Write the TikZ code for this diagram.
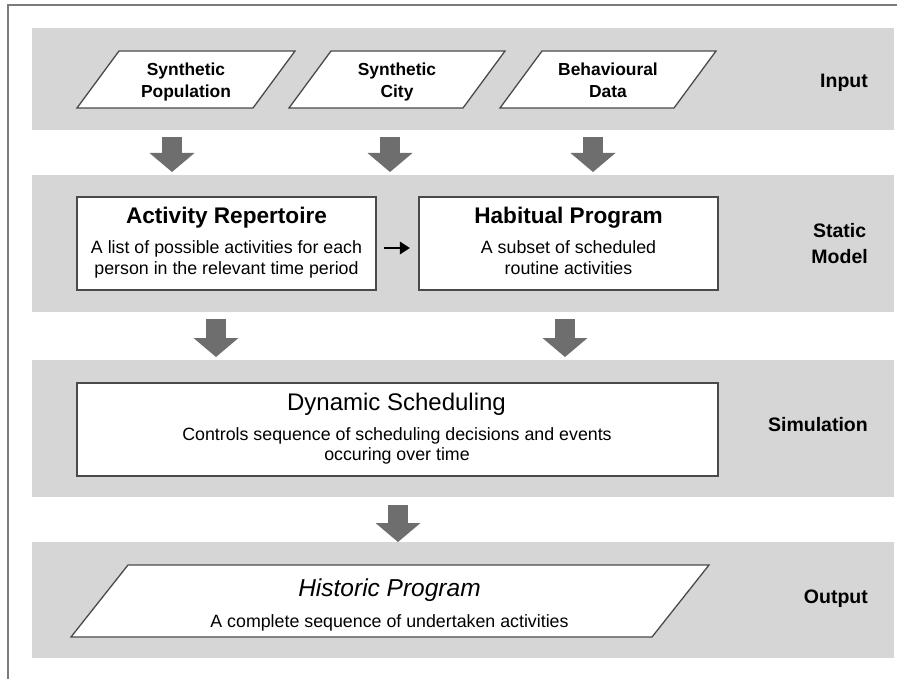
\documentclass[tikz,border=0pt]{standalone}
\usepackage{fontspec}
\setmainfont{Liberation Sans}
\usetikzlibrary{arrows.meta}
\definecolor{bandgray}{HTML}{D6D6D6}
\definecolor{arrowgray}{HTML}{6E6E6E}
\definecolor{edgegray}{HTML}{4A4A4A}
\definecolor{framegray}{HTML}{7C7C7C}
% two centred lines whose baseline is the baseline of the first line
\newcommand\stacked[2]{\vtop{\halign{\hfil##\hfil\cr#1\cr#2\cr}}}

\begin{document}
\begin{tikzpicture}[x=1pt,y=-1pt,
  band/.style={fill=bandgray},
  slanted/.style={draw=edgegray,fill=white,line width=1.3pt,line join=miter},
  box/.style={draw=edgegray,fill=white,line width=1.3pt,minimum width=299pt,minimum height=93pt,inner sep=0pt},
  intext/.style={anchor=base,inner sep=0pt,font=\fontsize{17.4}{21.3}\selectfont\bfseries},
  side/.style={anchor=base east,inner sep=0pt,font=\fontsize{19.5}{26}\selectfont\bfseries},
  title/.style={anchor=base,inner sep=0pt,font=\fontsize{22.6}{27}\selectfont\bfseries},
  desc/.style={anchor=base,inner sep=0pt,font=\fontsize{17.8}{20.5}\selectfont},
  fat/.style={draw=arrowgray,line width=20pt,-{Triangle[width=45pt,length=19pt,line width=0pt]}},
  smallarr/.style={draw=black,line width=2.6pt,-{Triangle[width=13pt,length=10pt,line width=0pt]}}]

\useasboundingbox (0,0) rectangle (902,679);

% page frame
\draw[framegray,line width=1.8pt] (8,679) -- (8,5) -- (897,5);

% layer bands
\fill[band] (32,28) rectangle (894,130);
\fill[band] (32,175) rectangle (894,312);
\fill[band] (32,360) rectangle (894,497);
\fill[band] (32,542) rectangle (894,658);

% input data
\draw[slanted] (119,51) -- (295,51) -- (253,108) -- (77,108) -- cycle;
\draw[slanted] (331,51) -- (505,51) -- (463,108) -- (289,108) -- cycle;
\draw[slanted] (542,51) -- (716,51) -- (674,108) -- (500,108) -- cycle;
\node[intext] (pop) at (186,76) {\stacked{Synthetic}{Population}};
\node[intext] (city) at (397,76) {\stacked{Synthetic}{City}};
\node[intext] (beh) at (608,76) {\stacked{Behavioural}{Data}};

% static model
\node[box] (rep) at (226.5,243.5) {};
\node[box] (hab) at (568.5,243.5) {};
\node[title] (rept) at (226.5,223) {Activity Repertoire};
\node[desc] (repd) at (226.5,254) {\stacked{A list of possible activities for each}{person in the relevant time period}};
\node[title] (habt) at (568.5,223) {Habitual Program};
\node[desc] (habd) at (568.5,254) {\stacked{A subset of scheduled}{routine activities}};
\draw[smallarr,shorten <=7pt,shorten >=8.5pt] ([yshift=-4.5pt]rep.east) -- ([yshift=-4.5pt]hab.west);

% simulation
\node[box,minimum width=641pt] (dyn) at (397.5,429.5) {};
\node[anchor=base,inner sep=0pt,font=\fontsize{24}{28}\selectfont] (dynt) at (396.5,410) {Dynamic Scheduling};
\node[desc] (dynd) at (397,440) {\stacked{Controls sequence of scheduling decisions and events}{occuring over time}};

% output
\draw[slanted] (128,565) -- (709,565) -- (652,637) -- (71,637) -- cycle;
\node[anchor=base,inner sep=0pt,font=\fontsize{24.5}{28}\selectfont\itshape] (histt) at (389.5,596.7) {Historic Program};
\node[desc] (histd) at (389.5,627.3) {A complete sequence of undertaken activities};

% layer labels
\node[side] (lin) at (868,87.3) {Input};
\node[side] (lstat) at (868,237.3) {\stacked{Static}{Model}};
\node[side] (lsim) at (868,431.7) {Simulation};
\node[side] (lout) at (868,603) {Output};

% flow between layers
\coordinate (f1a) at (172,137);   \coordinate (f1b) at (172,172);
\coordinate (f2a) at (390,137);   \coordinate (f2b) at (390,172);
\coordinate (f3a) at (593,137);   \coordinate (f3b) at (593,172);
\coordinate (f4a) at (216,319);   \coordinate (f4b) at (216,357);
\coordinate (f5a) at (565,319);   \coordinate (f5b) at (565,357);
\coordinate (f6a) at (398,505);   \coordinate (f6b) at (398,542);
\foreach \k in {1,...,6} { \draw[fat] (f\k a) -- (f\k b); }
\end{tikzpicture}
\end{document}
